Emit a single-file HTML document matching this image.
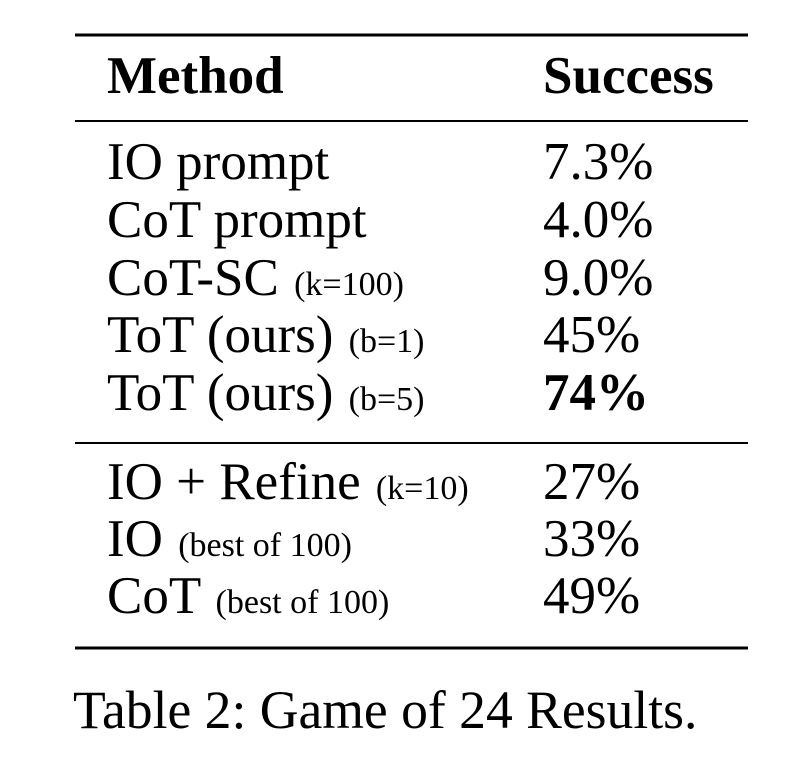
<!DOCTYPE html>
<html><head><meta charset="utf-8"><style>
html,body{margin:0;padding:0;background:#fff;width:790px;height:765px;overflow:hidden}
svg{display:block}
text{font-family:"Liberation Serif",serif;fill:#000}
.s{font-size:34px}
</style></head><body>
<svg width="790" height="765">
<rect x="75" y="33.5" width="673" height="3" fill="#000"/>
<rect x="75" y="120" width="673" height="2" fill="#000"/>
<rect x="75" y="442" width="673" height="2" fill="#000"/>
<rect x="75" y="646.5" width="673" height="3" fill="#000"/>
<g font-size="53" font-weight="bold">
<text x="107" y="93">Method</text>
<text x="543" y="93">Success</text>
</g>
<g font-size="53">
<text x="107" y="179">IO prompt</text>
<text x="543" y="179">7.3%</text>
<text x="107" y="237">CoT prompt</text>
<text x="543" y="237">4.0%</text>
<text x="107" y="295">CoT-SC <tspan class="s" dx="2">(k=100)</tspan></text>
<text x="543" y="295">9.0%</text>
<text x="107" y="352">ToT (ours) <tspan class="s" dx="2">(b=1)</tspan></text>
<text x="543" y="352">45%</text>
<text x="107" y="410">ToT (ours) <tspan class="s" dx="2">(b=5)</tspan></text>
<text x="543" y="410" font-weight="bold">74%</text>
<text x="107" y="499">IO + Refine <tspan class="s" dx="2">(k=10)</tspan></text>
<text x="543" y="499">27%</text>
<text x="107" y="556">IO <tspan class="s" dx="2">(best of 100)</tspan></text>
<text x="543" y="556">33%</text>
<text x="107" y="613">CoT <tspan class="s" dx="2">(best of 100)</tspan></text>
<text x="543" y="613">49%</text>
</g>
<text x="73" y="728" font-size="53.6">Table 2: Game of 24 Results.</text>
</svg>
</body></html>
